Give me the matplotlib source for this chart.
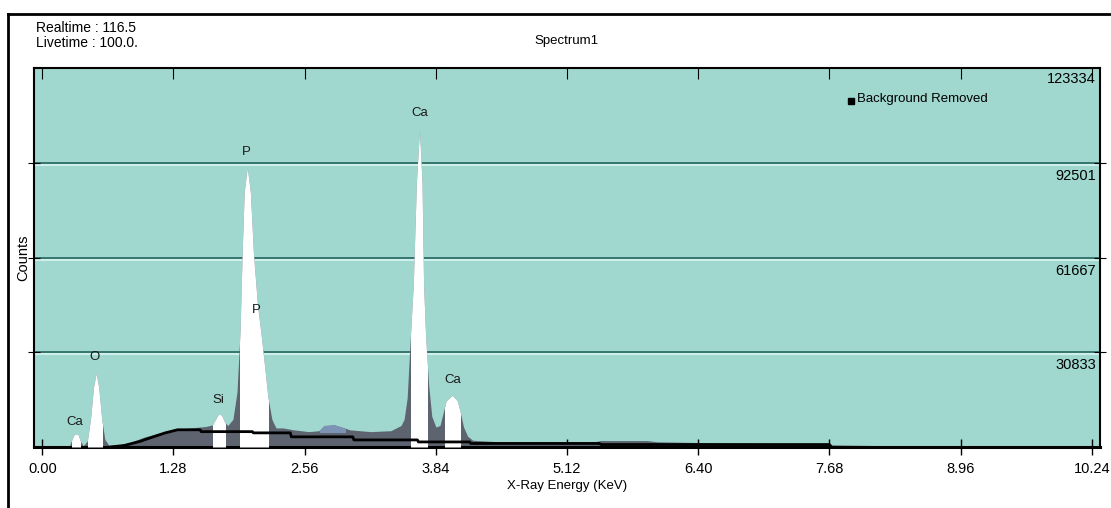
import matplotlib
matplotlib.use('Agg')
import matplotlib.pyplot as plt
import matplotlib.patheffects as pe
from matplotlib.patches import Rectangle
from matplotlib.lines import Line2D

plt.rcParams['font.family'] = ['Liberation Sans Narrow', 'Liberation Sans', 'DejaVu Sans']

# spectrum (keV, counts)
energy = [0.00, 0.26, 0.29, 0.31, 0.33, 0.35, 0.37, 0.40, 0.44, 0.47, 0.50, 0.525,
          0.55, 0.58, 0.61, 0.65, 0.75, 0.85, 1.00, 1.15, 1.30, 1.45, 1.60, 1.66,
          1.69, 1.72, 1.75, 1.78, 1.81, 1.86, 1.90, 1.93, 1.95, 1.97, 2.00, 2.03,
          2.06, 2.10, 2.13, 2.17, 2.20, 2.24, 2.28, 2.35, 2.45, 2.60, 2.70, 2.75,
          2.85, 2.92, 3.00, 3.20, 3.40, 3.50, 3.53, 3.56, 3.59, 3.62, 3.65, 3.68,
          3.705, 3.72, 3.74, 3.77, 3.80, 3.84, 3.88, 3.91, 3.94, 4.00, 4.05, 4.08,
          4.11, 4.15, 4.20, 4.40, 5.00, 5.40, 5.45, 5.90, 6.00, 6.50, 7.20, 7.70,
          8.50, 9.50, 10.24]
counts = [0, 0, 2500, 4000, 4300, 4000, 2000, 400, 2000, 9000, 19500, 24000,
          19500, 9000, 2500, 500, 700, 1400, 3300, 4600, 5800, 6200, 6700, 7200,
          9000, 10800, 10300, 8000, 7000, 9000, 18000, 38000, 63000, 83000, 91000, 83000,
          63000, 46000, 38000, 26000, 16500, 9000, 6200, 6200, 5600, 5000, 5300, 7000,
          7200, 6500, 5600, 5000, 5300, 7000, 9000, 16000, 35000, 53000, 86000, 103000,
          86000, 53000, 36000, 20000, 10000, 6500, 7000, 11000, 15000, 16800, 15000, 11000,
          6500, 3500, 2200, 1800, 1700, 1800, 2100, 2100, 1700, 1400, 1100, 700,
          300, 100, 0]

# fitted background (black stepped line)
bg_energy = [0.66, 0.80, 0.95, 1.10, 1.20, 1.32, 1.54, 1.55, 2.05, 2.06, 2.42, 2.43,
             3.03, 3.04, 3.66, 3.67, 4.17, 4.18, 5.44, 5.45, 7.68, 7.70]
bg_counts = [0, 500, 1800, 3500, 4600, 5600, 5600, 5000, 5000, 4600, 4600, 3300,
             3300, 2300, 2300, 1650, 1650, 1150, 1150, 800, 800, 0]

# element windows (white) and the small blue window
roi_windows = [(0.29, 0.37), (0.447, 0.584), (1.67, 1.786), (1.933, 2.207),
               (3.60, 3.756), (3.927, 4.073)]
blue_window = (2.71, 2.95)

peak_names = ['Ca', 'O', 'Si', 'P', 'P', 'Ca', 'Ca']
peak_label_e = [0.32, 0.51, 1.72, 1.99, 2.09, 3.68, 4.00]
peak_label_c = [8100, 29300, 15300, 96000, 44500, 108600, 21800]

xticks = [0.00, 1.28, 2.56, 3.84, 5.12, 6.40, 7.68, 8.96, 10.24]
ygrid = [30833, 61667, 92501, 123334]

fig = plt.figure(figsize=(11.11, 5.08), dpi=100)
ax = fig.add_axes([34/1111, 1-447/508, (1100-34)/1111, (447-68)/508])
ax.set_facecolor('#a0d7cf')
ax.set_xlim(-0.081, 10.32)
ax.set_ylim(0, 123334)

for v in ygrid[:-1]:
    ax.axhline(v, color='#2e6d67', lw=1.3, zorder=1,
               path_effects=[pe.SimpleLineShadow(offset=(0, -1.6), shadow_color='#d4f3ee', alpha=1),
                             pe.Normal()])

ax.fill_between(energy, counts, color='#5d6470', lw=0, zorder=2)
for e1, e2 in roi_windows:
    poly = ax.fill_between(energy, counts, color='white', lw=0, zorder=3)
    poly.set_clip_path(Rectangle((e1, 0), e2 - e1, 130000, transform=ax.transData))
poly = ax.fill_between(energy, counts, color='#7d93b5', lw=0, zorder=3)
poly.set_clip_path(Rectangle((blue_window[0], 4800), blue_window[1] - blue_window[0], 130000,
                             transform=ax.transData))

ax.plot(bg_energy, bg_counts, color='black', lw=2, zorder=4)

for name, e, c in zip(peak_names, peak_label_e, peak_label_c):
    ax.text(e, c, name, ha='center', va='center', fontsize=9.5, color='#1a1a1a', zorder=5)

# axis cosmetics
ax.set_xticks(xticks)
ax.set_xticklabels(['%.2f' % t for t in xticks], fontsize=10.5)
ax.tick_params(axis='x', direction='inout', length=12, width=1, pad=5)
ax.set_yticks(ygrid[:-1])
ax.tick_params(axis='y', left=True, right=True, direction='inout', length=8,
               labelleft=False)
top = ax.secondary_xaxis('top')
top.set_xticks(xticks)
top.tick_params(direction='in', length=8, labeltop=False)
for s in ax.spines.values():
    s.set_linewidth(1.5)
ax.spines['bottom'].set_linewidth(2.2)
top.spines['top'].set_visible(False)

for v in ygrid:
    off = -8 if v == ygrid[-1] else -9.5
    ax.annotate(str(v), xy=(1, v), xycoords=('axes fraction', 'data'),
                xytext=(-3, off), textcoords='offset points',
                ha='right', va='center', fontsize=10.5, zorder=6)

ax.set_xlabel('X-Ray Energy (KeV)', fontsize=9.5, labelpad=3)
ax.set_ylabel('Counts', fontsize=10.5, labelpad=-1)

# legend marker
ax.plot([0.766], [0.913], marker='s', color='black', ms=5, transform=ax.transAxes,
        clip_on=False, zorder=6)
ax.text(0.772, 0.918, 'Background Removed', transform=ax.transAxes, fontsize=9.5,
        ha='left', va='center', zorder=6)

fig.text(566/1111, 1-41/508, 'Spectrum1', ha='center', va='center', fontsize=9.5)
fig.text(36/1111, 1-28/508, 'Realtime : 116.5', ha='left', va='center', fontsize=10)
fig.text(36/1111, 1-43/508, 'Livetime : 100.0.', ha='left', va='center', fontsize=10)

# outer frame (left and top edges)
fig.add_artist(Line2D([8/1111, 8/1111], [0, 1-14/508], transform=fig.transFigure,
                      color='black', lw=2))
fig.add_artist(Line2D([8/1111, 1], [1-14/508, 1-14/508], transform=fig.transFigure,
                      color='black', lw=2))

fig.savefig('out.png', dpi=100)
